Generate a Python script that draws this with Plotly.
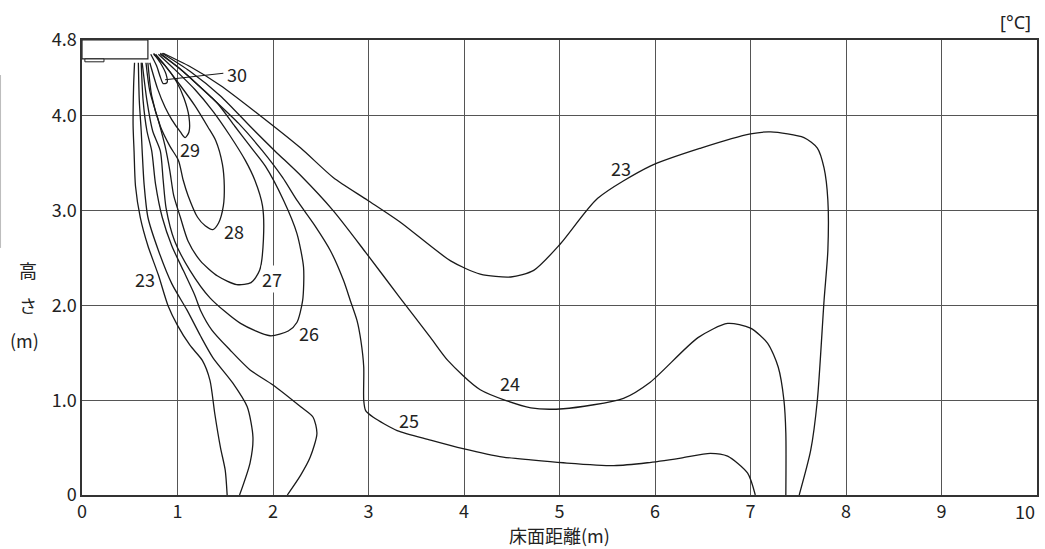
import plotly.graph_objects as go

# ---------------- data ----------------
x_ticks = [0, 1, 2, 3, 4, 5, 6, 7, 8, 9, 10]
x_ticktext = ["0", "1", "2", "3", "4", "5", "6", "7", "8", "9", ""]
x_last_label = "10"          # drawn separately so it stays inside the picture
y_ticks = [0, 1.0, 2.0, 3.0, 4.0, 4.8]
y_ticktext = ["0", "1.0", "2.0", "3.0", "4.0", "4.8"]

# isotherm 23 (two branches from the outlet)
t23_left_x = [0.55, 0.54, 0.535, 0.545, 0.56, 0.61, 0.69, 0.80, 0.90, 1.0, 1.13, 1.26, 1.34, 1.39, 1.45, 1.50, 1.52]
t23_left_y = [4.56, 4.3, 3.9, 3.63, 3.26, 2.93, 2.63, 2.32, 2.0, 1.79, 1.58, 1.42, 1.21, 0.86, 0.5, 0.26, 0.0]
t23_right_x = [0.85, 1.13, 1.45, 1.83, 2.29, 2.63, 2.99, 3.33, 3.86, 4.17, 4.49, 4.73, 5.01, 5.40, 5.95, 6.48, 7.00, 7.21, 7.56, 7.70, 7.77, 7.81, 7.81, 7.77, 7.70, 7.63, 7.51]
t23_right_y = [4.66, 4.52, 4.32, 4.03, 3.66, 3.35, 3.11, 2.88, 2.47, 2.33, 2.30, 2.37, 2.65, 3.13, 3.47, 3.66, 3.81, 3.83, 3.77, 3.66, 3.45, 3.11, 2.58, 2.05, 1.00, 0.47, 0.0]

# isotherm 24
t24_left_x = [0.59, 0.60, 0.62, 0.63, 0.65, 0.69, 0.80, 0.94, 1.10, 1.24, 1.37, 1.58, 1.73, 1.79, 1.76, 1.65]
t24_left_y = [4.56, 4.16, 3.84, 3.63, 3.28, 2.93, 2.58, 2.23, 1.95, 1.68, 1.45, 1.18, 0.93, 0.61, 0.34, 0.0]
t24_right_x = [0.84, 1.13, 1.45, 1.76, 2.02, 2.29, 2.63, 2.97, 3.33, 3.65, 3.83, 4.17, 4.70, 5.04, 5.67, 5.95, 6.45, 6.76, 7.00, 7.18, 7.29, 7.35, 7.37, 7.37]
t24_right_y = [4.66, 4.47, 4.21, 3.89, 3.63, 3.37, 3.00, 2.56, 2.08, 1.66, 1.42, 1.11, 0.92, 0.91, 1.02, 1.19, 1.66, 1.81, 1.76, 1.60, 1.35, 1.00, 0.65, 0.0]

# isotherm 25
t25_left_x = [0.62, 0.64, 0.68, 0.73, 0.77, 0.84, 0.94, 1.06, 1.18, 1.24, 1.36, 1.55, 1.76, 2.0, 2.29, 2.42, 2.46, 2.39, 2.29, 2.15]
t25_left_y = [4.56, 4.16, 3.84, 3.63, 3.28, 2.93, 2.63, 2.37, 2.11, 1.95, 1.74, 1.53, 1.32, 1.16, 0.93, 0.82, 0.65, 0.40, 0.21, 0.0]
t25_right_x = [0.82, 1.08, 1.36, 1.64, 1.89, 2.10, 2.25, 2.44, 2.60, 2.74, 2.81, 2.88, 2.92, 2.95, 2.95, 2.97, 3.05, 3.30, 3.65, 3.99, 4.41, 4.70, 5.04, 5.57, 5.92, 6.27, 6.58, 6.76, 6.97, 7.05]
t25_right_y = [4.66, 4.45, 4.19, 3.92, 3.63, 3.35, 3.11, 2.84, 2.58, 2.26, 2.05, 1.84, 1.63, 1.35, 1.00, 0.89, 0.82, 0.68, 0.58, 0.49, 0.40, 0.37, 0.34, 0.31, 0.34, 0.39, 0.44, 0.41, 0.23, 0.0]

# closed loops 26-30
t26_x = [0.63, 0.68, 0.74, 0.82, 0.85, 0.88, 0.97, 1.13, 1.34, 1.66, 1.97, 2.16, 2.25, 2.31, 2.32, 2.25, 2.11, 1.92, 1.76, 1.60, 1.42, 1.22, 1.01, 0.82]
t26_y = [4.56, 4.16, 3.84, 3.63, 3.32, 3.03, 2.68, 2.37, 2.08, 1.81, 1.68, 1.73, 1.82, 2.05, 2.40, 2.76, 3.11, 3.47, 3.68, 3.89, 4.13, 4.32, 4.51, 4.65]
t27_x = [0.67, 0.71, 0.80, 0.87, 0.92, 0.96, 1.03, 1.11, 1.24, 1.42, 1.62, 1.77, 1.86, 1.90, 1.89, 1.81, 1.71, 1.55, 1.37, 1.18, 0.97, 0.80]
t27_y = [4.56, 4.26, 3.95, 3.68, 3.42, 3.16, 2.93, 2.68, 2.47, 2.31, 2.22, 2.24, 2.37, 2.70, 3.05, 3.32, 3.53, 3.79, 4.05, 4.28, 4.49, 4.65]
t28_x = [0.69, 0.73, 0.82, 0.92, 1.01, 1.06, 1.11, 1.21, 1.29, 1.37, 1.43, 1.48, 1.49, 1.47, 1.40, 1.32, 1.18, 1.03, 0.87, 0.77]
t28_y = [4.56, 4.21, 3.89, 3.68, 3.53, 3.32, 3.16, 2.93, 2.84, 2.80, 2.87, 3.05, 3.26, 3.49, 3.74, 3.88, 4.11, 4.32, 4.53, 4.65]
t29_x = [0.71, 0.79, 0.87, 0.94, 1.03, 1.08, 1.12, 1.12, 1.07, 0.99, 0.87, 0.75]
t29_y = [4.56, 4.29, 4.09, 3.96, 3.83, 3.77, 3.83, 3.99, 4.18, 4.36, 4.53, 4.65]
t30_x = [0.72, 0.78, 0.82, 0.85, 0.89, 0.88, 0.82, 0.75]
t30_y = [4.65, 4.53, 4.41, 4.34, 4.35, 4.44, 4.56, 4.66]

# contour labels
label_text = ["23", "23", "24", "25", "26", "27", "28", "29", "30"]
label_x = [5.64, 0.66, 4.48, 3.42, 2.38, 1.99, 1.59, 1.13, 1.62]
label_y = [3.45, 2.28, 1.18, 0.79, 1.71, 2.28, 2.79, 3.65, 4.44]
leader30_x = [0.87, 1.48]
leader30_y = [4.38, 4.45]

# ceiling unit outline (data units)
unit_box = (0.0, 4.6, 0.69, 4.8)
unit_grille = (0.03, 4.57, 0.23, 4.6)

# ---------------- figure ----------------
FONT = "Noto Sans CJK JP, Noto Sans, sans-serif"
FS = 18
LINE = dict(color="#1a1a1a", width=1.3, shape="spline", smoothing=0.7)

fig = go.Figure()
curves = [
    (t23_left_x, t23_left_y), (t23_right_x, t23_right_y),
    (t24_left_x, t24_left_y), (t24_right_x, t24_right_y),
    (t25_left_x, t25_left_y), (t25_right_x, t25_right_y),
    (t26_x, t26_y), (t27_x, t27_y), (t28_x, t28_y), (t29_x, t29_y), (t30_x, t30_y),
]
for cx, cy in curves:
    fig.add_trace(go.Scatter(x=cx, y=cy, mode="lines", line=LINE,
                             hoverinfo="skip", showlegend=False))
fig.add_trace(go.Scatter(x=leader30_x, y=leader30_y, mode="lines",
                         line=dict(color="#1a1a1a", width=1.1),
                         hoverinfo="skip", showlegend=False))

for t, lx, ly in zip(label_text, label_x, label_y):
    fig.add_annotation(x=lx, y=ly, text=t, showarrow=False,
                       font=dict(family=FONT, size=FS, color="#222"),
                       bgcolor="white" if t == "27" else "rgba(0,0,0,0)",
                       borderpad=0)

fig.add_shape(type="rect", x0=unit_box[0], y0=unit_box[1], x1=unit_box[2], y1=unit_box[3],
              line=dict(color="#222", width=1.2), fillcolor="white", layer="above")
fig.add_shape(type="rect", x0=unit_grille[0], y0=unit_grille[1], x1=unit_grille[2], y1=unit_grille[3],
              line=dict(color="#222", width=1), fillcolor="white", layer="above")

# faint vertical line at far left of the picture
fig.add_shape(type="line", xref="paper", yref="paper", x0=-0.0853, x1=-0.0853, y0=0.543, y1=0.923,
              line=dict(color="#bbbbbb", width=1))

# axis titles / unit (paper coordinates)
for txt, xx, yy in [("高", -0.0565, 0.4945), ("さ", -0.0565, 0.4176), ("(m)", -0.0597, 0.3407)]:
    fig.add_annotation(xref="paper", yref="paper", x=xx, y=yy, text=txt, showarrow=False,
                       xanchor="center", yanchor="middle",
                       font=dict(family=FONT, size=FS, color="#222"))
fig.add_annotation(xref="paper", yref="paper", x=0.4995, y=-0.088, text="床面距離(m)",
                   showarrow=False, xanchor="center", yanchor="middle",
                   font=dict(family=FONT, size=FS, color="#222"))
fig.add_annotation(xref="paper", yref="paper", x=0.977, y=1.04, text="[°C]",
                   showarrow=False, xanchor="center", yanchor="middle",
                   font=dict(family="Noto Sans, sans-serif", size=FS, color="#222"))
fig.add_annotation(xref="paper", yref="paper", x=1.0, y=-0.0352, text=x_last_label,
                   showarrow=False, xanchor="right", yanchor="middle",
                   font=dict(family=FONT, size=FS, color="#222"))

axis_common = dict(showline=True, linecolor="#333", linewidth=1.5, mirror=True,
                   showgrid=True, gridcolor="#555", gridwidth=1, zeroline=False,
                   ticks="", automargin=False,
                   tickfont=dict(family=FONT, size=FS, color="#222"))
fig.update_xaxes(range=[0, 10], tickvals=x_ticks, ticktext=x_ticktext, **axis_common)
fig.update_yaxes(range=[0, 4.8], tickvals=y_ticks, ticktext=y_ticktext, **axis_common)

fig.update_layout(width=1045, height=549, margin=dict(l=82, r=8, t=40, b=54),
                  plot_bgcolor="white", paper_bgcolor="white")

fig.write_html("out.html", config={"displayModeBar": False},
               post_script="document.body.style.margin='0';document.body.style.overflow='hidden';")
